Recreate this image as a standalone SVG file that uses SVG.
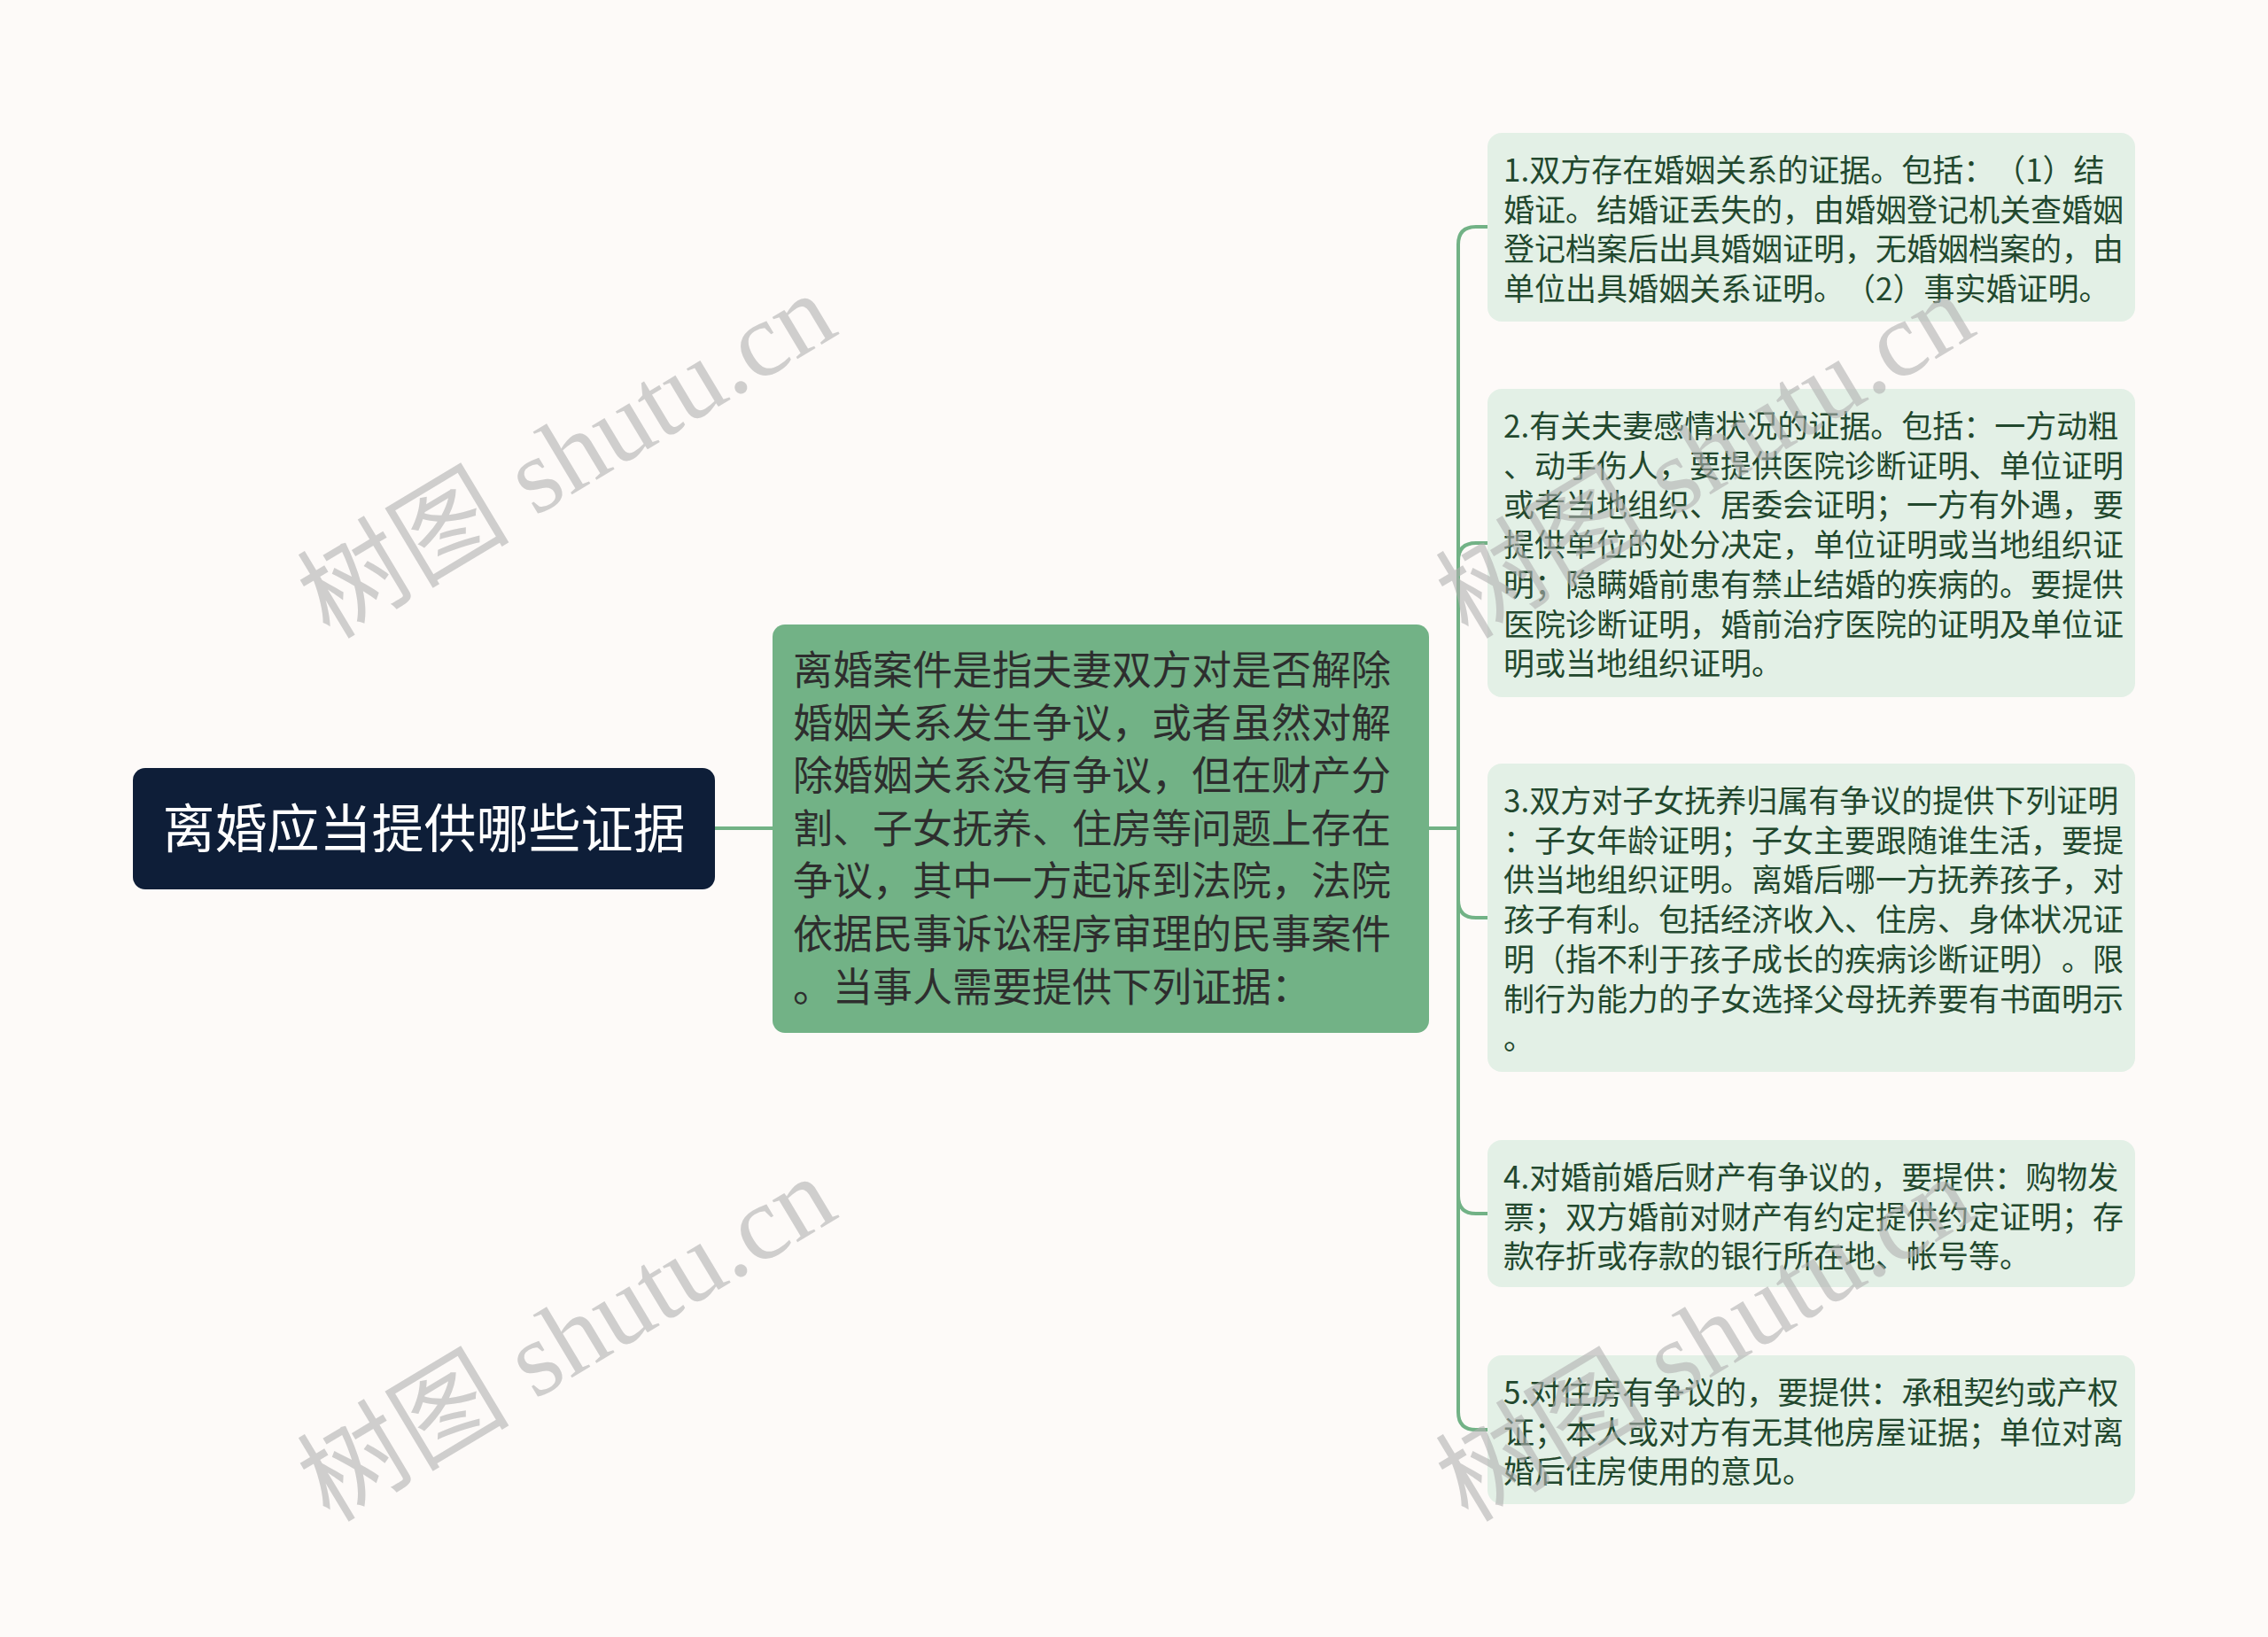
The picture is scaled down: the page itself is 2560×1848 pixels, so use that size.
<svg xmlns="http://www.w3.org/2000/svg" width="2560" height="1848" viewBox="0 0 2560 1848">
<style>
.bg{fill:#fdfaf8}
text{text-spacing-trim:space-all}
.root-box{fill:#0e1e38}
.root-txt{font-family:"Noto Sans CJK SC","Noto Sans",sans-serif;font-size:59px;fill:#ffffff}
.mid-box{fill:#72b286}
.mid-txt{font-family:"Noto Sans CJK SC","Noto Sans",sans-serif;font-size:45px;fill:#2e2e2e}
.leaf-box{fill:#e3f0e6}
.leaf-txt{font-family:"Noto Sans CJK SC","Noto Sans",sans-serif;font-size:35px;fill:#22482e}
.conn{fill:none;stroke:#72b286;stroke-width:4}
.wm{font-family:"Liberation Serif","Noto Sans CJK SC",serif;font-size:120px;fill:#b0b0b0;fill-opacity:0.6}
</style>
<rect class="bg" x="0" y="0" width="2560" height="1848"/>
<g id="connectors">
<path class="conn" d="M807,935 H872"/>
<path class="conn" d="M1613,935 H1646 V276 Q1646,256 1666,256 H1679"/>
<path class="conn" d="M1613,935 H1646 V633 Q1646,613 1666,613 H1679"/>
<path class="conn" d="M1613,935 H1646 V1016 Q1646,1036 1666,1036 H1679"/>
<path class="conn" d="M1613,935 H1646 V1350 Q1646,1370 1666,1370 H1679"/>
<path class="conn" d="M1613,935 H1646 V1594 Q1646,1614 1666,1614 H1679"/>
</g>
<g id="root">
<rect class="root-box" x="150" y="867" width="657" height="137" rx="14"/>
<text class="root-txt" x="478.5" y="957" text-anchor="middle">离婚应当提供哪些证据</text>
</g>
<g id="middle">
<rect class="mid-box" x="872" y="705" width="741" height="461" rx="14"/>
<text class="mid-txt" x="895" y="773">
<tspan x="895" y="773">离婚案件是指夫妻双方对是否解除</tspan>
<tspan x="895" y="832.6">婚姻关系发生争议，或者虽然对解</tspan>
<tspan x="895" y="892.2">除婚姻关系没有争议，但在财产分</tspan>
<tspan x="895" y="951.8">割、子女抚养、住房等问题上存在</tspan>
<tspan x="895" y="1011.4">争议，其中一方起诉到法院，法院</tspan>
<tspan x="895" y="1071">依据民事诉讼程序审理的民事案件</tspan>
<tspan x="895" y="1130.6">。当事人需要提供下列证据：</tspan>
</text>
</g>
<g id="leaf1">
<rect class="leaf-box" x="1679" y="150" width="731" height="213" rx="16"/>
<text class="leaf-txt">
<tspan x="1697" y="205">1.双方存在婚姻关系的证据。包括：（1）结</tspan>
<tspan x="1697" y="249.7">婚证。结婚证丢失的，由婚姻登记机关查婚姻</tspan>
<tspan x="1697" y="294.4">登记档案后出具婚姻证明，无婚姻档案的，由</tspan>
<tspan x="1697" y="339.1">单位出具婚姻关系证明。（2）事实婚证明。</tspan>
</text>
</g>
<g id="leaf2">
<rect class="leaf-box" x="1679" y="439" width="731" height="348" rx="16"/>
<text class="leaf-txt">
<tspan x="1697" y="494">2.有关夫妻感情状况的证据。包括：一方动粗</tspan>
<tspan x="1697" y="538.7">、动手伤人，要提供医院诊断证明、单位证明</tspan>
<tspan x="1697" y="583.4">或者当地组织、居委会证明；一方有外遇，要</tspan>
<tspan x="1697" y="628.1">提供单位的处分决定，单位证明或当地组织证</tspan>
<tspan x="1697" y="672.8">明；隐瞒婚前患有禁止结婚的疾病的。要提供</tspan>
<tspan x="1697" y="717.5">医院诊断证明，婚前治疗医院的证明及单位证</tspan>
<tspan x="1697" y="762.2">明或当地组织证明。</tspan>
</text>
</g>
<g id="leaf3">
<rect class="leaf-box" x="1679" y="862" width="731" height="348" rx="16"/>
<text class="leaf-txt">
<tspan x="1697" y="917">3.双方对子女抚养归属有争议的提供下列证明</tspan>
<tspan x="1697" y="961.7">：子女年龄证明；子女主要跟随谁生活，要提</tspan>
<tspan x="1697" y="1006.4">供当地组织证明。离婚后哪一方抚养孩子，对</tspan>
<tspan x="1697" y="1051.1">孩子有利。包括经济收入、住房、身体状况证</tspan>
<tspan x="1697" y="1095.8">明（指不利于孩子成长的疾病诊断证明）。限</tspan>
<tspan x="1697" y="1140.5">制行为能力的子女选择父母抚养要有书面明示</tspan>
<tspan x="1697" y="1185.2">。</tspan>
</text>
</g>
<g id="leaf4">
<rect class="leaf-box" x="1679" y="1287" width="731" height="166" rx="16"/>
<text class="leaf-txt">
<tspan x="1697" y="1342">4.对婚前婚后财产有争议的，要提供：购物发</tspan>
<tspan x="1697" y="1386.7">票；双方婚前对财产有约定提供约定证明；存</tspan>
<tspan x="1697" y="1431.4">款存折或存款的银行所在地、帐号等。</tspan>
</text>
</g>
<g id="leaf5">
<rect class="leaf-box" x="1679" y="1530" width="731" height="168" rx="16"/>
<text class="leaf-txt">
<tspan x="1697" y="1585">5.对住房有争议的，要提供：承租契约或产权</tspan>
<tspan x="1697" y="1629.7">证；本人或对方有无其他房屋证据；单位对离</tspan>
<tspan x="1697" y="1674.4">婚后住房使用的意见。</tspan>
</text>
</g>
<g id="watermarks">
<text class="wm" transform="translate(640,515) rotate(-31)" x="0" y="40" text-anchor="middle">树图 shutu.cn</text>
<text class="wm" transform="translate(640,1512) rotate(-31)" x="0" y="40" text-anchor="middle">树图 shutu.cn</text>
<text class="wm" transform="translate(1925,515) rotate(-31)" x="0" y="40" text-anchor="middle">树图 shutu.cn</text>
<text class="wm" transform="translate(1925,1512) rotate(-31)" x="0" y="40" text-anchor="middle">树图 shutu.cn</text>
</g>
</svg>
